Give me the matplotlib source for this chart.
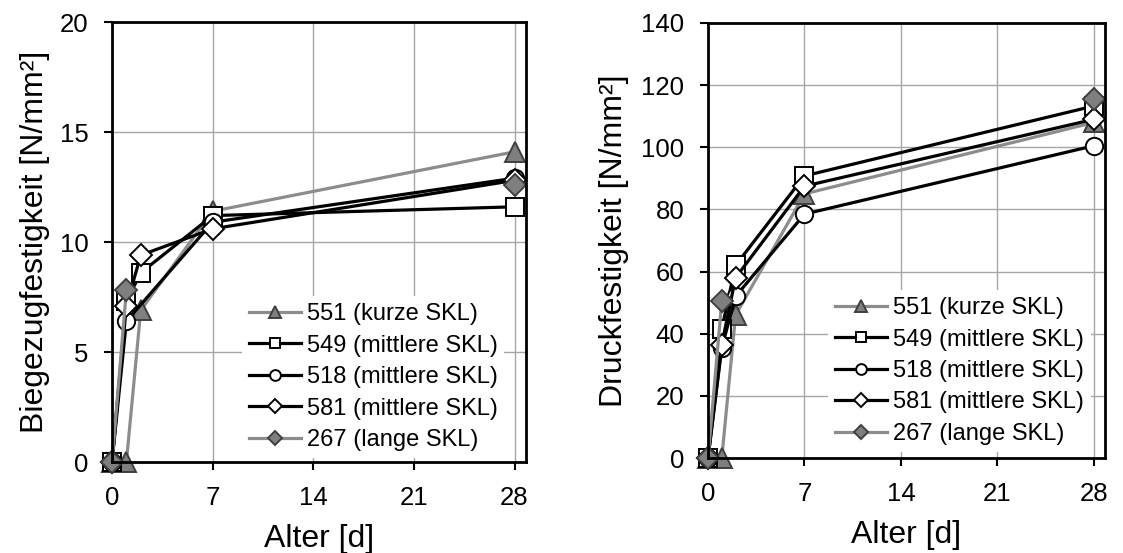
import matplotlib
matplotlib.use('Agg')
import matplotlib.pyplot as plt
import numpy as np

plt.rcParams['font.family'] = ['Liberation Sans', 'DejaVu Sans']

# Alter [d]
days_5 = [0, 1, 2, 7, 28]
days_4 = [0, 1, 7, 28]
nan = np.nan

labels = ['551 (kurze SKL)', '549 (mittlere SKL)', '518 (mittlere SKL)',
          '581 (mittlere SKL)', '267 (lange SKL)']

# Biegezugfestigkeit [N/mm²]  (nan = kein Messwert -> Luecke)
bz_551 = [0, 0, 6.9, 11.4, 14.1]
bz_549 = [0, 7.3, 8.6, 11.2, 11.6]
bz_518 = [0, 6.4, 10.9, 12.9]
bz_581 = [0, 7.1, 9.4, 10.6, 12.8]
bz_267 = [0, 7.8, nan, nan, 12.6]

# Druckfestigkeit [N/mm²]
df_551 = [0, 0, 46, 85, 108]
df_549 = [0, 41.5, 62, 90.8, 113.3]
df_518 = [0, 35.5, 52, 78.5, 100.5]
df_581 = [0, 36.5, 58, 87.5, 109]
df_267 = [0, 50.5, nan, nan, 115.6]

gray_line = '#8c8c8c'
gray_fill = '#7f7f7f'
gray_edge = '#3f3f3f'

styles = [
    dict(color=gray_line, marker='^', ms=15, mfc=gray_fill, mec=gray_edge),
    dict(color='black', marker='s', ms=12.5, mfc='white', mec='black'),
    dict(color='black', marker='o', ms=12.5, mfc='white', mec='black'),
    dict(color='black', marker='D', ms=11, mfc='white', mec='black'),
    dict(color=gray_line, marker='D', ms=11.5, mfc=gray_fill, mec=gray_edge),
]

fig = plt.figure(figsize=(11.23, 5.53), dpi=100)
ax1 = fig.add_axes([112 / 1123, 1 - 462 / 553, 414 / 1123, 440 / 553])
ax2 = fig.add_axes([708 / 1123, 1 - 458 / 553, 397 / 1123, 435 / 553])


def draw(ax, series, ymax, ystep, ylabel, legend_pos, ylabelpad):
    for (xs, ys), lab, st in zip(series, labels, styles):
        ax.plot(xs, ys, label=lab, lw=2.3, mew=1.4, clip_on=False, zorder=3, **st)
    ax.set_xlim(0, 28.8)
    ax.set_ylim(0, ymax)
    ax.set_xticks([0, 7, 14, 21, 28])
    ax.set_yticks(range(0, ymax + 1, ystep))
    ax.grid(True, color='#a6a6a6', lw=1.0, zorder=0)
    ax.set_axisbelow(True)
    for sp in ax.spines.values():
        sp.set_linewidth(2.0)
        sp.set_color('black')
        sp.set_zorder(6)
    ax.tick_params(direction='out', length=6, width=1.5, labelsize=18.5)
    ax.tick_params(axis='y', pad=11)
    ax.tick_params(axis='x', pad=11)
    ax.set_xlabel('Alter [d]', fontsize=23, labelpad=10)
    ax.set_ylabel(ylabel, fontsize=23, labelpad=ylabelpad)
    leg = ax.legend(loc='center left', bbox_to_anchor=legend_pos, fontsize=17,
                    frameon=True, fancybox=False, edgecolor='none', facecolor='white',
                    framealpha=1, borderaxespad=0, borderpad=0.3,
                    handlelength=2.2, handletextpad=0.25, labelspacing=0.4,
                    markerscale=0.62)
    leg.set_zorder(5)


draw(ax1, [(days_5, bz_551), (days_5, bz_549), (days_4, bz_518),
           (days_5, bz_581), (days_5, bz_267)],
     20, 5, 'Biegezugfestigkeit [N/mm²]', (0.313, 0.193), 7)
draw(ax2, [(days_5, df_551), (days_5, df_549), (days_5, df_518),
           (days_5, df_581), (days_5, df_267)],
     140, 20, 'Druckfestigkeit [N/mm²]', (0.302, 0.2), 9)

fig.savefig('out.png', dpi=100)
